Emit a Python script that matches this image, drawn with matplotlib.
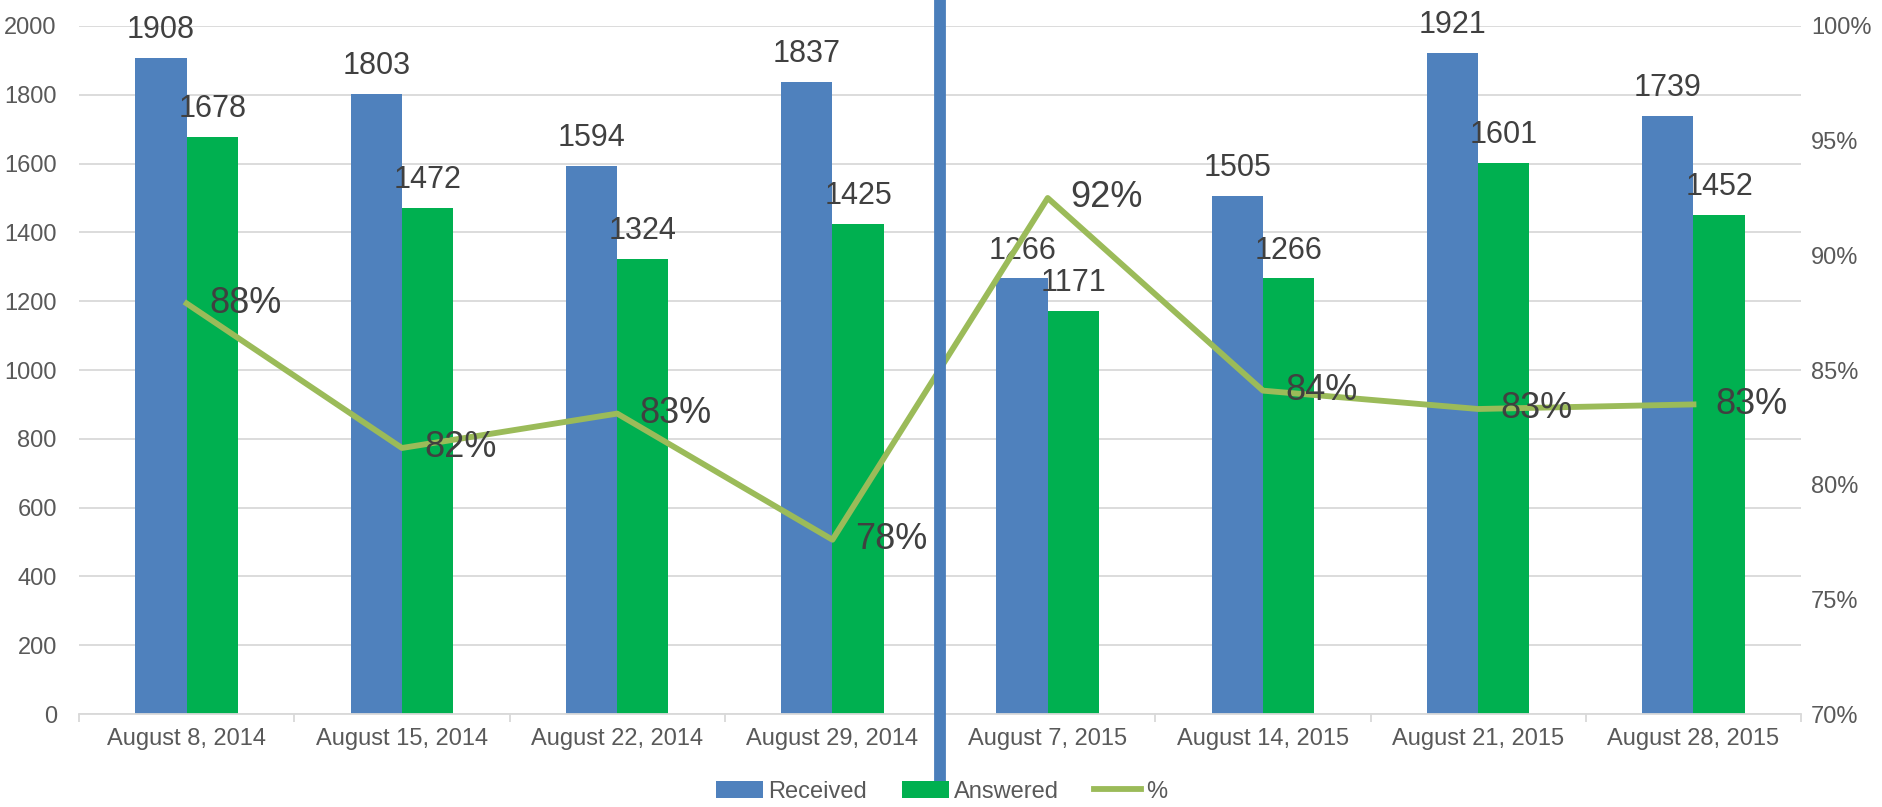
import numpy as np
import matplotlib
matplotlib.use("Agg")
import matplotlib.pyplot as plt
from matplotlib.ticker import FuncFormatter, MultipleLocator

plt.rcParams["font.family"] = ["Liberation Sans", "DejaVu Sans"]

BLUE = "#4f81bd"
GREEN = "#00b050"
LINE = "#9bbb59"
GRID = "#d9d9d9"
TICK = "#595959"
LABEL = "#404040"

weeks = ["August 8, 2014", "August 15, 2014", "August 22, 2014", "August 29, 2014",
         "August 7, 2015", "August 14, 2015", "August 21, 2015", "August 28, 2015"]
received = [1908, 1803, 1594, 1837, 1266, 1505, 1921, 1739]
answered = [1678, 1472, 1324, 1425, 1171, 1266, 1601, 1452]
pct = [0.879, 0.816, 0.831, 0.776, 0.925, 0.841, 0.833, 0.835]
pct_labels = ["88%", "82%", "83%", "78%", "92%", "84%", "83%", "83%"]

fig = plt.figure(figsize=(18.83, 8.07), dpi=100)
ax = fig.add_axes([0.042, 0.1152, 0.9145, 0.8526])
ax2 = ax.twinx()

x = np.arange(len(weeks))
w = 0.238
ax.bar(x - w / 2, received, w, color=BLUE, label="Received", zorder=2)
ax.bar(x + w / 2, answered, w, color=GREEN, label="Answered", zorder=2)

for xi, r, a in zip(x, received, answered):
    ax.annotate(str(r), (xi - w / 2, r), xytext=(0, 20), textcoords="offset points",
                ha="center", va="center", fontsize=22, color=LABEL)
    ax.annotate(str(a), (xi + w / 2, a), xytext=(0, 20), textcoords="offset points",
                ha="center", va="center", fontsize=22, color=LABEL)

ax.set_ylim(0, 2000)
ax.set_xlim(-0.5, len(weeks) - 0.5)
ax.yaxis.set_major_locator(MultipleLocator(200))
ax.grid(axis="y", color=GRID, lw=1.3, zorder=0)
ax.set_axisbelow(True)
for s in ["top", "left", "right"]:
    ax.spines[s].set_visible(False)
ax.spines["bottom"].set_color(GRID)
ax.spines["bottom"].set_linewidth(1.3)
ax.set_xticks(x)
ax.set_xticklabels(weeks)
ax.set_xticks(np.arange(-0.5, len(weeks)), minor=True)
ax.tick_params(axis="x", which="major", length=0, pad=10, labelsize=17, labelcolor=TICK)
ax.tick_params(axis="x", which="minor", length=6, color=GRID, width=1.3)
ax.tick_params(axis="y", length=0, pad=16, labelsize=17, labelcolor=TICK)

ln, = ax2.plot(x, pct, color=LINE, lw=4.2, label="%", zorder=3)
for xi, p, t in zip(x, pct, pct_labels):
    ax2.annotate(t, (xi, p), xytext=(16, 0), textcoords="offset points",
                 ha="left", va="center", fontsize=26, color=LABEL)
ax2.set_ylim(0.70, 1.00)
ax2.set_yticks(np.arange(0.70, 1.001, 0.05))
ax2.yaxis.set_major_formatter(FuncFormatter(lambda v, _: f"{v:.0%}"))
ax2.tick_params(axis="y", length=0, pad=7, labelsize=17, labelcolor=TICK)
for s in ax2.spines.values():
    s.set_visible(False)

# divider between the two years
ax2.axvline(3.5, ymin=-0.092, ymax=1.05, color="#4a7ebb", lw=8.5, clip_on=False, zorder=5)

h1, l1 = ax.get_legend_handles_labels()
fig.legend(h1 + [ln], l1 + ["%"], loc="center", bbox_to_anchor=(0.5, 0.019), ncol=3,
           frameon=False, fontsize=17, labelcolor=TICK, handlelength=2.0,
           handletextpad=0.2, columnspacing=1.5)

fig.savefig("out.png", dpi=100)
